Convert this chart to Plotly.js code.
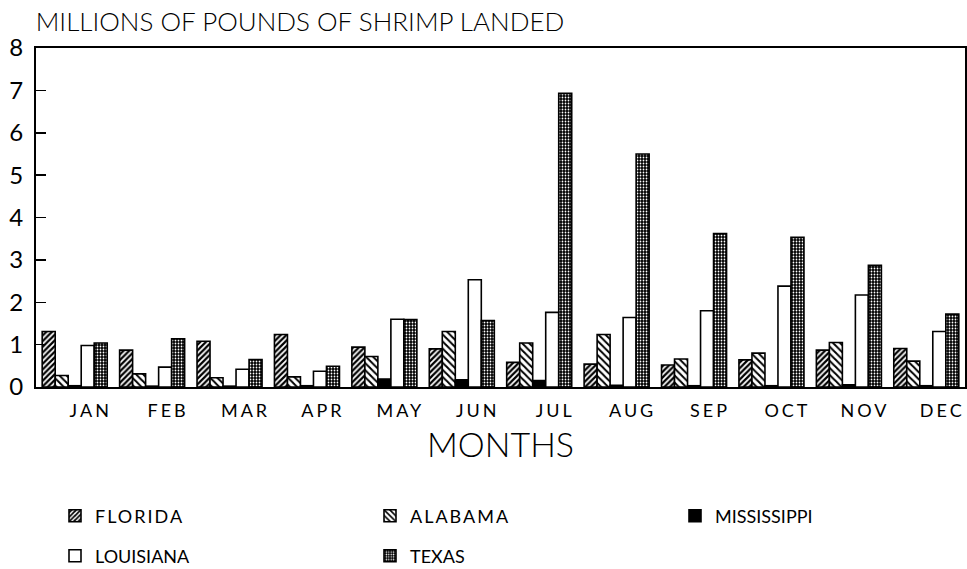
<!DOCTYPE html>
<html>
<head>
<meta charset="utf-8">
<script src="https://cdn.plot.ly/plotly-3.0.1.min.js"></script>
<style>
html,body{margin:0;padding:0;background:#fff;}
#chart{width:967px;height:569px;}
#chart .xtick text{letter-spacing:3px;}
#chart .legendtext{letter-spacing:2px;}
</style>
</head>
<body>
<div id="chart"></div>
<script>
const months = ["JAN","FEB","MAR","APR","MAY","JUN","JUL","AUG","SEP","OCT","NOV","DEC"];
const florida     = [1.31,0.87,1.08,1.24,0.94,0.90,0.58,0.54,0.52,0.64,0.87,0.91];
const alabama     = [0.27,0.31,0.22,0.24,0.72,1.31,1.04,1.24,0.66,0.80,1.05,0.61];
const mississippi = [0.03,0.02,0.02,0.03,0.19,0.17,0.15,0.04,0.03,0.03,0.05,0.03];
const louisiana   = [0.98,0.47,0.42,0.37,1.60,2.53,1.76,1.64,1.80,2.38,2.17,1.31];
const texas       = [1.04,1.14,0.65,0.49,1.59,1.57,6.93,5.50,3.62,3.53,2.87,1.72];
const yTicks = [0,1,2,3,4,5,6,7,8];

const FONT = "Lato, 'Liberation Sans', sans-serif";
const line = {color:'#000', width:1.6};

const traces = [
  {name:'FLORIDA', y:florida, legend:'legend', marker:{color:'#fff', line:line,
     pattern:{shape:'/', fgcolor:'#000', bgcolor:'#fff', size:4, solidity:0.55}}},
  {name:'ALABAMA', y:alabama, legend:'legend', marker:{color:'#fff', line:line,
     pattern:{shape:'\\', fgcolor:'#000', bgcolor:'#fff', size:5, solidity:0.4}}},
  {name:'MISSISSIPPI', y:mississippi, legend:'legend3', marker:{color:'#000', line:line}},
  {name:'LOUISIANA', y:louisiana, legend:'legend2', marker:{color:'#fff', line:line}},
  {name:'TEXAS', y:texas, legend:'legend2', marker:{color:'#000', line:line,
     pattern:{shape:'.', fgcolor:'#fff', bgcolor:'#000', size:3, solidity:0.28}}}
].map(t => Object.assign({type:'bar', x:months, hoverinfo:'skip'}, t));

const legendBase = {orientation:'h', xref:'container', yref:'container', x:55/967,
  xanchor:'left', yanchor:'middle', entrywidth:270, entrywidthmode:'pixels',
  font:{size:18, family:FONT}, traceorder:'normal', itemclick:false, bgcolor:'rgba(0,0,0,0)'};

const layout = {
  width:967, height:569,
  paper_bgcolor:'#fff', plot_bgcolor:'#fff',
  margin:{l:36, r:2, t:48, b:182},
  barmode:'group', bargap:0.16, bargroupgap:0,
  font:{family:FONT, color:'#000'},
  title:{text:'MILLIONS OF POUNDS OF SHRIMP LANDED', x:0.037, xanchor:'left', xref:'container',
         y:0.962, yanchor:'middle', yref:'container', font:{size:26, family:FONT, weight:300}},
  xaxis:{type:'category', showline:true, mirror:true, linecolor:'#000', linewidth:2,
         ticks:'', showgrid:false, tickfont:{size:18, family:FONT}, ticklabelshift:16,
         ticklabelstandoff:6,
         title:{text:'MONTHS', font:{size:34, family:FONT, weight:300}, standoff:14}},
  yaxis:{range:[0,8], tickvals:yTicks, ticktext:yTicks.map(String), showline:true, mirror:true,
         linecolor:'#000', linewidth:2, ticks:'inside', ticklen:10, tickwidth:1.5, tickcolor:'#000',
         showgrid:false, zeroline:false, tickfont:{size:24, family:FONT}, ticklabelstandoff:6},
  showlegend:true,
  legend:Object.assign({}, legendBase, {y:1-516/569}),
  legend2:Object.assign({}, legendBase, {y:1-556/569}),
  legend3:Object.assign({}, legendBase, {x:675/967, y:1-516/569})
};

Plotly.newPlot('chart', traces, layout, {staticPlot:true, displayModeBar:false});
</script>
</body>
</html>
